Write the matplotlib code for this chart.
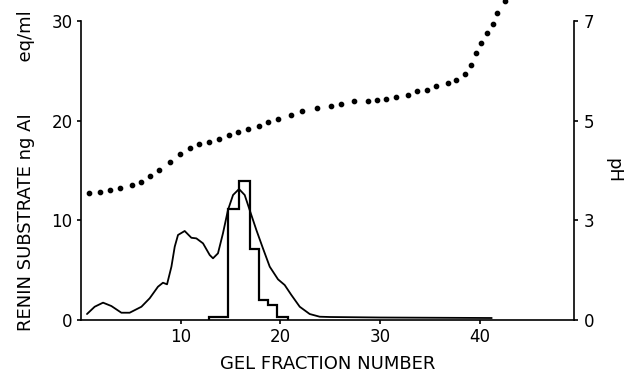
import matplotlib
matplotlib.use("Agg")
import matplotlib.pyplot as plt

# Renin substrate (smooth curve), ng AI eq/ml vs gel fraction number
curve_x = [0.60, 1.37, 2.21, 3.05, 4.05, 4.88, 6.06, 6.89, 7.72, 8.22, 8.63, 9.07,
           9.40, 9.73, 10.40, 11.07, 11.57, 12.24, 12.91, 13.24, 13.74, 14.24, 14.74,
           15.25, 15.85, 16.42, 16.92, 17.59, 18.25, 18.93, 19.76, 20.43, 21.10, 21.94,
           22.94, 23.94, 24.94, 30.0, 41.2]
curve_y = [0.60, 1.33, 1.74, 1.40, 0.73, 0.73, 1.33, 2.18, 3.34, 3.74, 3.58, 5.35,
           7.35, 8.53, 8.93, 8.25, 8.19, 7.69, 6.52, 6.19, 6.69, 8.70, 11.03,
           12.54, 13.14, 12.54, 11.03, 9.03, 7.19, 5.35, 4.08, 3.51, 2.51, 1.33,
           0.60, 0.33, 0.30, 0.25, 0.20]

# Step histogram
hist_edges = [12.8, 13.8, 14.75, 15.8, 16.95, 17.9, 18.75, 19.7, 20.75]
hist_vals = [0.33, 0.33, 11.1, 13.9, 7.1, 2.0, 1.55, 0.33]

# pH gradient (dots)
ph_x = [0.80, 1.88, 2.88, 3.95, 5.12, 6.02, 6.92, 7.86, 8.90, 9.93, 10.90, 11.84,
        12.84, 13.88, 14.84, 15.79, 16.72, 17.85, 18.80, 19.76, 21.03, 22.14, 23.71,
        25.12, 26.12, 27.42, 28.83, 29.69, 30.63, 31.63, 32.84, 33.70, 34.70, 35.65,
        36.78, 37.65, 38.56, 39.09, 39.66, 40.16, 40.76, 41.29, 41.77, 42.50]
ph_vals = [3.55, 3.57, 3.61, 3.64, 3.71, 3.77, 3.89, 4.01, 4.18, 4.33, 4.46, 4.53,
           4.58, 4.64, 4.71, 4.77, 4.83, 4.90, 4.97, 5.04, 5.12, 5.19, 5.25,
           5.29, 5.33, 5.39, 5.40, 5.41, 5.43, 5.48, 5.51, 5.59, 5.61, 5.70,
           5.76, 5.81, 5.93, 6.12, 6.36, 6.55, 6.76, 6.94, 7.16, 7.41]

left_ticks = [0, 10, 20, 30]
x_ticks = [10, 20, 30, 40]
ph_ticks = [3, 5, 7]
ph_tick_labels = ["0", "3", "5", "7"]


def ph_to_axis(p):
    # right axis: pH 3 -> 10, 5 -> 20, 7 -> 30 (broken below 3)
    return 10 + (p - 3) * 5


FS = 12
LFS = 13
fig = plt.figure(figsize=(6.41, 3.74), dpi=100)
ax = fig.add_axes([81 / 641, 1 - 320 / 374, (574 - 81) / 641, (320 - 21) / 374])
ax2 = ax.twinx()

ax.plot(curve_x, curve_y, color="black", lw=1.3, solid_joinstyle="round",
        solid_capstyle="round")
ax.stairs(hist_vals, hist_edges, color="black", lw=1.6, baseline=0)
ax.plot(ph_x, [ph_to_axis(p) for p in ph_vals], ls="none", marker="o",
        ms=3.1, color="black", clip_on=False)

ax.set_xlim(0, 49.45)
ax.set_ylim(0, 30)
ax2.set_ylim(0, 30)

ax.set_xticks(x_ticks)
ax.set_yticks(left_ticks)
ax2.set_yticks([0] + [ph_to_axis(p) for p in ph_ticks])
ax2.set_yticklabels(ph_tick_labels)

for a in (ax, ax2):
    a.spines["top"].set_visible(False)
    for s in a.spines.values():
        s.set_linewidth(1.2)
ax.spines["right"].set_visible(False)
ax2.spines["left"].set_visible(False)
ax2.spines["bottom"].set_visible(False)

ax.tick_params(axis="both", direction="out", length=3, width=1.2, labelsize=FS, pad=3)
ax2.tick_params(axis="y", direction="out", length=3, width=1.2, labelsize=FS, pad=4)

ax.set_xlabel("GEL FRACTION NUMBER", fontsize=LFS, labelpad=6)
ax.set_ylabel("RENIN SUBSTRATE ng AI         eq/ml", fontsize=LFS, labelpad=12)
ax2.set_ylabel("pH", fontsize=LFS, rotation=270, labelpad=20)

fig.savefig("out.png", dpi=100)
